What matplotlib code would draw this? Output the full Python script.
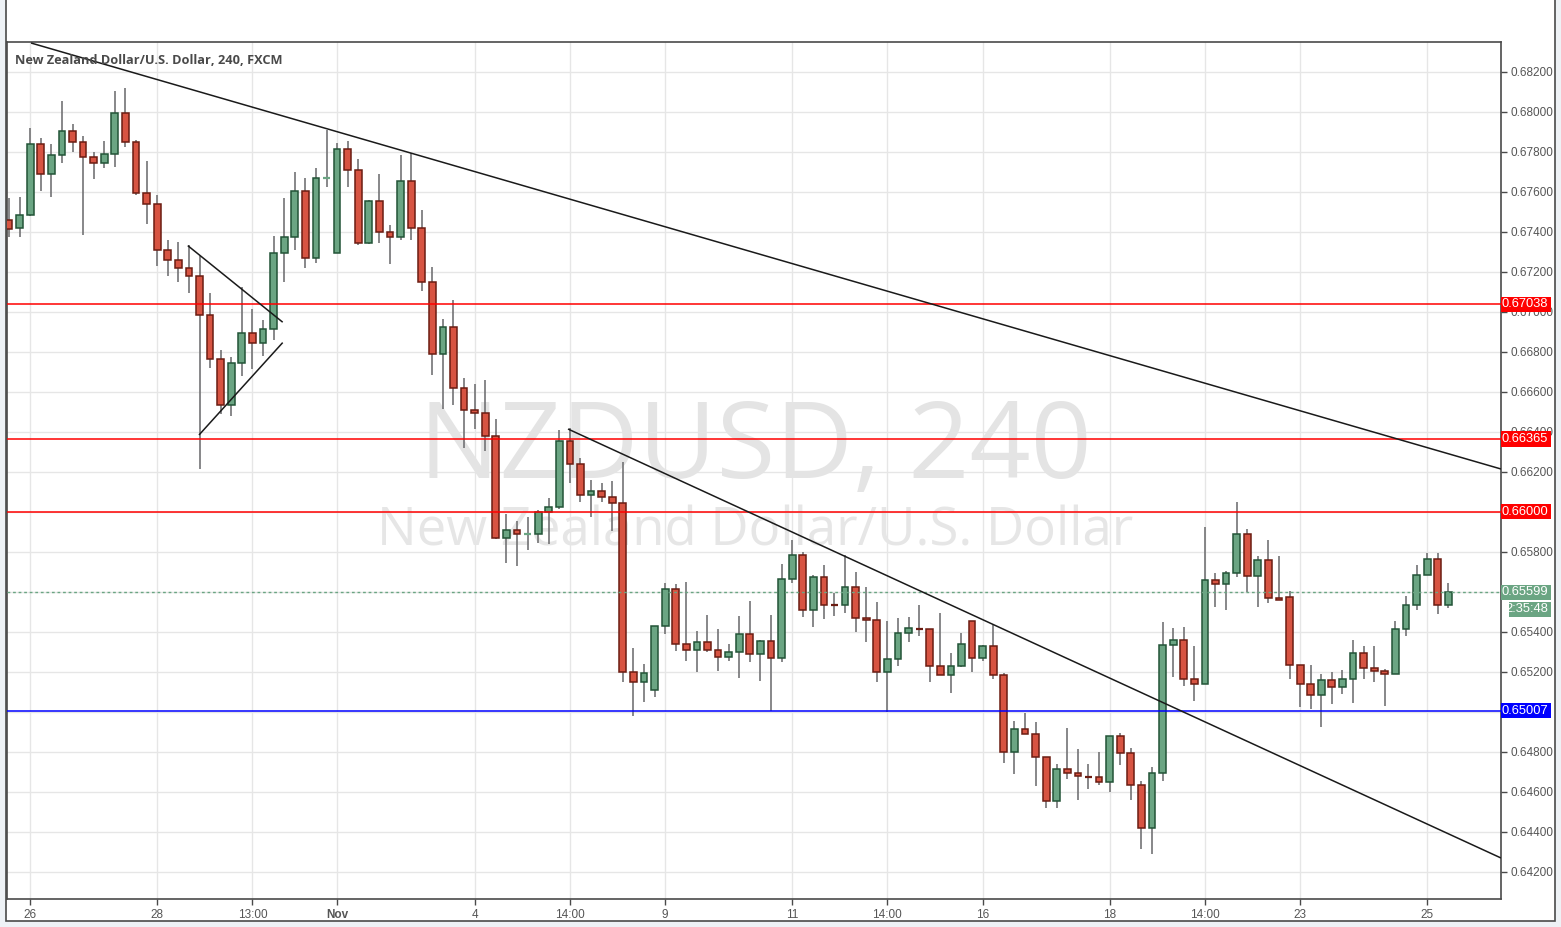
import matplotlib
matplotlib.use('Agg')
import matplotlib.pyplot as plt
import matplotlib.transforms as mtransforms
from matplotlib.patches import Rectangle

# 4h candles, NZD/USD (FXCM)
opens = [0.67459, 0.67419, 0.67484, 0.67839, 0.67689, 0.67784, 0.67904, 0.67849, 0.67774, 0.67744,
         0.67789, 0.67994, 0.67849, 0.67594, 0.67539, 0.67309, 0.67259, 0.67219, 0.67179, 0.66984,
         0.66764, 0.66534, 0.66744, 0.66894, 0.66844, 0.66914, 0.67294, 0.67374, 0.67605, 0.67269,
         0.67669, 0.67294, 0.67814, 0.67709, 0.67347, 0.67554, 0.67402, 0.67377, 0.67654, 0.67419,
         0.67152, 0.66789, 0.66924, 0.66619, 0.66509, 0.66494, 0.66380, 0.65869, 0.65909, 0.65889,
         0.65889, 0.66000, 0.66024, 0.66355, 0.66240, 0.66085, 0.66105, 0.66074, 0.66044, 0.65199,
         0.65149, 0.65109, 0.65429, 0.65614, 0.65339, 0.65309, 0.65349, 0.65309, 0.65274, 0.65299,
         0.65389, 0.65289, 0.65354, 0.65269, 0.65664, 0.65784, 0.65509, 0.65674, 0.65534, 0.65534,
         0.65624, 0.65469, 0.65459, 0.65199, 0.65264, 0.65394, 0.65415, 0.65414, 0.65229, 0.65184,
         0.65229, 0.65454, 0.65269, 0.65329, 0.65184, 0.64799, 0.64914, 0.64889, 0.64774, 0.64554,
         0.64714, 0.64694, 0.64677, 0.64674, 0.64649, 0.64879, 0.64794, 0.64634, 0.64419, 0.64694,
         0.65334, 0.65359, 0.65164, 0.65139, 0.65659, 0.65639, 0.65694, 0.65889, 0.65679, 0.65759,
         0.65569, 0.65574, 0.65234, 0.65139, 0.65084, 0.65159, 0.65124, 0.65164, 0.65294, 0.65219,
         0.65204, 0.65189, 0.65414, 0.65534, 0.65684, 0.65764, 0.65534]
highs = [0.67569, 0.67574, 0.67919, 0.67869, 0.67839, 0.68054, 0.67940, 0.67880, 0.67799, 0.67854,
         0.68104, 0.68119, 0.67859, 0.67755, 0.67584, 0.67359, 0.67349, 0.67334, 0.67282, 0.67094,
         0.66809, 0.66774, 0.67127, 0.67014, 0.66959, 0.67379, 0.67569, 0.67699, 0.67669, 0.67719,
         0.67910, 0.67844, 0.67855, 0.67764, 0.67560, 0.67690, 0.67435, 0.67785, 0.67794, 0.67510,
         0.67225, 0.66965, 0.67060, 0.66672, 0.66640, 0.66660, 0.66465, 0.65990, 0.65955, 0.65977,
         0.66010, 0.66070, 0.66410, 0.66419, 0.66269, 0.66160, 0.66144, 0.66157, 0.66249, 0.65319,
         0.65239, 0.65429, 0.65647, 0.65640, 0.65650, 0.65405, 0.65485, 0.65415, 0.65339, 0.65480,
         0.65555, 0.65360, 0.65485, 0.65739, 0.65860, 0.65799, 0.65684, 0.65734, 0.65594, 0.65784,
         0.65699, 0.65624, 0.65549, 0.65454, 0.65469, 0.65474, 0.65534, 0.65414, 0.65494, 0.65294,
         0.65394, 0.65454, 0.65334, 0.65434, 0.65194, 0.64954, 0.64994, 0.64949, 0.64774, 0.64739,
         0.64920, 0.64814, 0.64739, 0.64799, 0.64879, 0.64894, 0.64819, 0.64654, 0.64724, 0.65449,
         0.65419, 0.65425, 0.65330, 0.65925, 0.65694, 0.65705, 0.66049, 0.65914, 0.65779, 0.65859,
         0.65779, 0.65604, 0.65234, 0.65234, 0.65189, 0.65199, 0.65209, 0.65359, 0.65329, 0.65329,
         0.65214, 0.65454, 0.65579, 0.65734, 0.65794, 0.65794, 0.65644]
lows = [0.67374, 0.67377, 0.67480, 0.67607, 0.67574, 0.67747, 0.67802, 0.67384, 0.67664, 0.67719,
        0.67724, 0.67827, 0.67584, 0.67440, 0.67232, 0.67182, 0.67149, 0.67094, 0.66215, 0.66719,
        0.66489, 0.66479, 0.66679, 0.66717, 0.66782, 0.66859, 0.67149, 0.67309, 0.67219, 0.67247,
        0.67627, 0.67294, 0.67627, 0.67335, 0.67339, 0.67347, 0.67240, 0.67360, 0.67360, 0.67107,
        0.66685, 0.66514, 0.66535, 0.66322, 0.66415, 0.66307, 0.65865, 0.65744, 0.65732, 0.65810,
        0.65844, 0.65839, 0.66014, 0.66147, 0.66052, 0.65974, 0.66052, 0.65907, 0.65152, 0.64982,
        0.65052, 0.65077, 0.65389, 0.65307, 0.65257, 0.65202, 0.65299, 0.65207, 0.65257, 0.65172,
        0.65249, 0.65157, 0.65007, 0.65249, 0.65645, 0.65477, 0.65427, 0.65465, 0.65482, 0.65494,
        0.65400, 0.65352, 0.65152, 0.64999, 0.65232, 0.65352, 0.65382, 0.65149, 0.65184, 0.65094,
        0.65224, 0.65202, 0.65254, 0.65164, 0.64744, 0.64689, 0.64889, 0.64629, 0.64522, 0.64522,
        0.64664, 0.64559, 0.64614, 0.64634, 0.64599, 0.64734, 0.64559, 0.64314, 0.64289, 0.64654,
        0.65177, 0.65132, 0.65057, 0.65139, 0.65524, 0.65512, 0.65677, 0.65599, 0.65524, 0.65544,
        0.65559, 0.65164, 0.65027, 0.65017, 0.64927, 0.65039, 0.65089, 0.65044, 0.65164, 0.65149,
        0.65029, 0.65189, 0.65379, 0.65509, 0.65684, 0.65489, 0.65519]
closes = [0.67414, 0.67484, 0.67839, 0.67689, 0.67784, 0.67904, 0.67849, 0.67774, 0.67744, 0.67789,
          0.67994, 0.67849, 0.67594, 0.67539, 0.67309, 0.67259, 0.67219, 0.67179, 0.66984, 0.66764,
          0.66534, 0.66744, 0.66894, 0.66844, 0.66914, 0.67294, 0.67374, 0.67604, 0.67269, 0.67669,
          0.67670, 0.67814, 0.67709, 0.67347, 0.67554, 0.67402, 0.67377, 0.67654, 0.67419, 0.67152,
          0.66789, 0.66924, 0.66619, 0.66509, 0.66494, 0.66380, 0.65869, 0.65909, 0.65889, 0.65890,
          0.66000, 0.66024, 0.66355, 0.66240, 0.66085, 0.66105, 0.66074, 0.66044, 0.65199, 0.65149,
          0.65194, 0.65429, 0.65614, 0.65339, 0.65309, 0.65349, 0.65309, 0.65274, 0.65299, 0.65389,
          0.65289, 0.65354, 0.65269, 0.65664, 0.65784, 0.65509, 0.65674, 0.65534, 0.65532, 0.65624,
          0.65469, 0.65459, 0.65199, 0.65264, 0.65394, 0.65419, 0.65414, 0.65229, 0.65184, 0.65229,
          0.65339, 0.65269, 0.65329, 0.65184, 0.64799, 0.64914, 0.64889, 0.64774, 0.64554, 0.64714,
          0.64694, 0.64679, 0.64675, 0.64649, 0.64879, 0.64794, 0.64634, 0.64419, 0.64694, 0.65334,
          0.65359, 0.65164, 0.65139, 0.65659, 0.65639, 0.65694, 0.65889, 0.65679, 0.65759, 0.65569,
          0.65559, 0.65234, 0.65139, 0.65084, 0.65159, 0.65124, 0.65164, 0.65294, 0.65219, 0.65204,
          0.65189, 0.65414, 0.65534, 0.65684, 0.65764, 0.65534, 0.65599]

xtick_idx = [2, 14, 23, 31, 44, 53, 62, 74, 83, 92, 104, 113, 122, 134]
xtick_labels = ['26', '28', '13:00', 'Nov', '4', '14:00', '9', '11', '14:00', '16', '18', '14:00', '23', '25']
ytick_vals = [0.642, 0.644, 0.646, 0.648, 0.650, 0.652, 0.654, 0.656, 0.658,
              0.660, 0.662, 0.664, 0.666, 0.668, 0.670, 0.672, 0.674, 0.676, 0.678, 0.680, 0.682]

# drawn levels and trend lines
levels = [0.67038, 0.66365, 0.66000, 0.65007]
level_colors = ['#ff0000', '#ff0000', '#ff0000', '#0000ff']
last_price = 0.65599
countdown = '2:35:48'
trend_lines = [
    ([2.08, 140.98], [0.68345, 0.66215]),
    ([52.82, 140.98], [0.66415, 0.64270]),
    ([16.89, 25.86], [0.67332, 0.66949]),
    ([17.95, 25.86], [0.66385, 0.66847]),
]

UP, DOWN = '#6ba583', '#d75442'
UP_EDGE, DOWN_EDGE = '#225437', '#6b1c12'
WICK = '#737375'
TXT = '#555555'

W, H = 1561, 927
fig = plt.figure(figsize=(W / 100, H / 100), dpi=100)
fig.patch.set_facecolor('#eef2f6')
# white chart panel with its frame, behind the axes
fig.patches.append(Rectangle((6 / W, 1 - 921 / H), 1549 / W, 921 / H + 0.01,
                             transform=fig.transFigure, fc='white', ec='#4a4a4a', lw=1.2, zorder=-5))

ax = fig.add_axes([7 / W, 1 - 899 / H, 1494 / W, 857 / H])
ax.set_facecolor('white')
ax.set_xlim(-0.19, 140.98)
ax.set_ylim(0.64065, 0.68350)

# grid
for v in ytick_vals:
    ax.axhline(v, color='#e6e6e6', lw=1, zorder=0)
for t in xtick_idx:
    ax.axvline(t, color='#e6e6e6', lw=1, zorder=0)

# watermark
ax.text(755 / W, 1 - 478 / H, 'NZDUSD, 240', fontsize=77, family='Open Sans',
        color='#e4e4e4', ha='center', va='baseline', zorder=1, transform=fig.transFigure)
ax.text(755 / W, 1 - 545 / H, 'New Zealand Dollar/U.S. Dollar', fontsize=38, family='Open Sans',
        color='#e6e6e6', ha='center', va='baseline', zorder=1, transform=fig.transFigure)

# candles
for i in range(len(opens)):
    o, h, l, c = opens[i], highs[i], lows[i], closes[i]
    up = c >= o
    ax.vlines(i, l, h, color=WICK, lw=1.2, zorder=3)
    if abs(c - o) < 0.00004:
        ax.hlines(o, i - 0.32, i + 0.32, color=UP if up else DOWN_EDGE, lw=1.6, zorder=4)
    else:
        ax.add_patch(Rectangle((i - 0.32, min(o, c)), 0.64, abs(c - o),
                               fc=UP if up else DOWN, ec=UP_EDGE if up else DOWN_EDGE,
                               lw=1.1, zorder=4))

for lv, col in zip(levels, level_colors):
    ax.axhline(lv, color=col, lw=1.1, zorder=5)
ax.axhline(last_price, color=UP, lw=1, ls=(0, (2, 2)), zorder=5)

for xs, ys in trend_lines:
    ax.plot(xs, ys, color='#1a1a1a', lw=1.1, zorder=6, solid_capstyle='butt')

ax.text(8 / 1494, 1 - 18 / 857, 'New Zealand Dollar/U.S. Dollar, 240, FXCM', transform=ax.transAxes,
        fontsize=9.2, family='Open Sans', fontweight='bold', color='#4a4a4a',
        ha='left', va='center', zorder=7)

# axes
for s in ax.spines.values():
    s.set_color('#4a4a4a')
    s.set_linewidth(1.2)
ax.yaxis.tick_right()
ax.set_yticks(ytick_vals)
# 0.650, 0.656 and 0.660 sit fully under the price tags
ax.set_yticklabels(['' if v in (0.650, 0.656, 0.660) else '%.5f' % v for v in ytick_vals])
ax.set_xticks(xtick_idx)
ax.set_xticklabels(xtick_labels)
ax.tick_params(axis='y', length=4, width=1, color='#4a4a4a', labelsize=8.5, labelcolor=TXT, pad=3)
ax.tick_params(axis='x', length=4, width=1, color='#4a4a4a', labelsize=8.5, labelcolor=TXT, pad=3)
for lab in ax.get_yticklabels() + ax.get_xticklabels():
    lab.set_family('Liberation Sans')
ax.get_xticklabels()[3].set_fontweight('bold')

# price labels on the right scale
tr = mtransforms.blended_transform_factory(ax.transAxes, ax.transData)
px = 1 / 1494
def price_tag(y, text, color, x0=0.0, width=50):
    ax.add_patch(Rectangle((1 + x0 * px, y - 0.000375), width * px, 0.00075, transform=tr,
                           fc=color, ec='none', clip_on=False, zorder=8))
    ax.text(1 + (x0 + width - 3) * px, y, text, transform=tr, ha='right', va='center',
            fontsize=9.3, family='Liberation Sans', color='white', clip_on=False, zorder=9)

for lv, col in zip(levels, level_colors):
    price_tag(lv, '%.5f' % lv, col)
price_tag(last_price, '%.5f' % last_price, UP)
price_tag(last_price - 0.00085, countdown, UP, x0=8, width=42)

fig.savefig('out.png', dpi=100, facecolor=fig.get_facecolor())
